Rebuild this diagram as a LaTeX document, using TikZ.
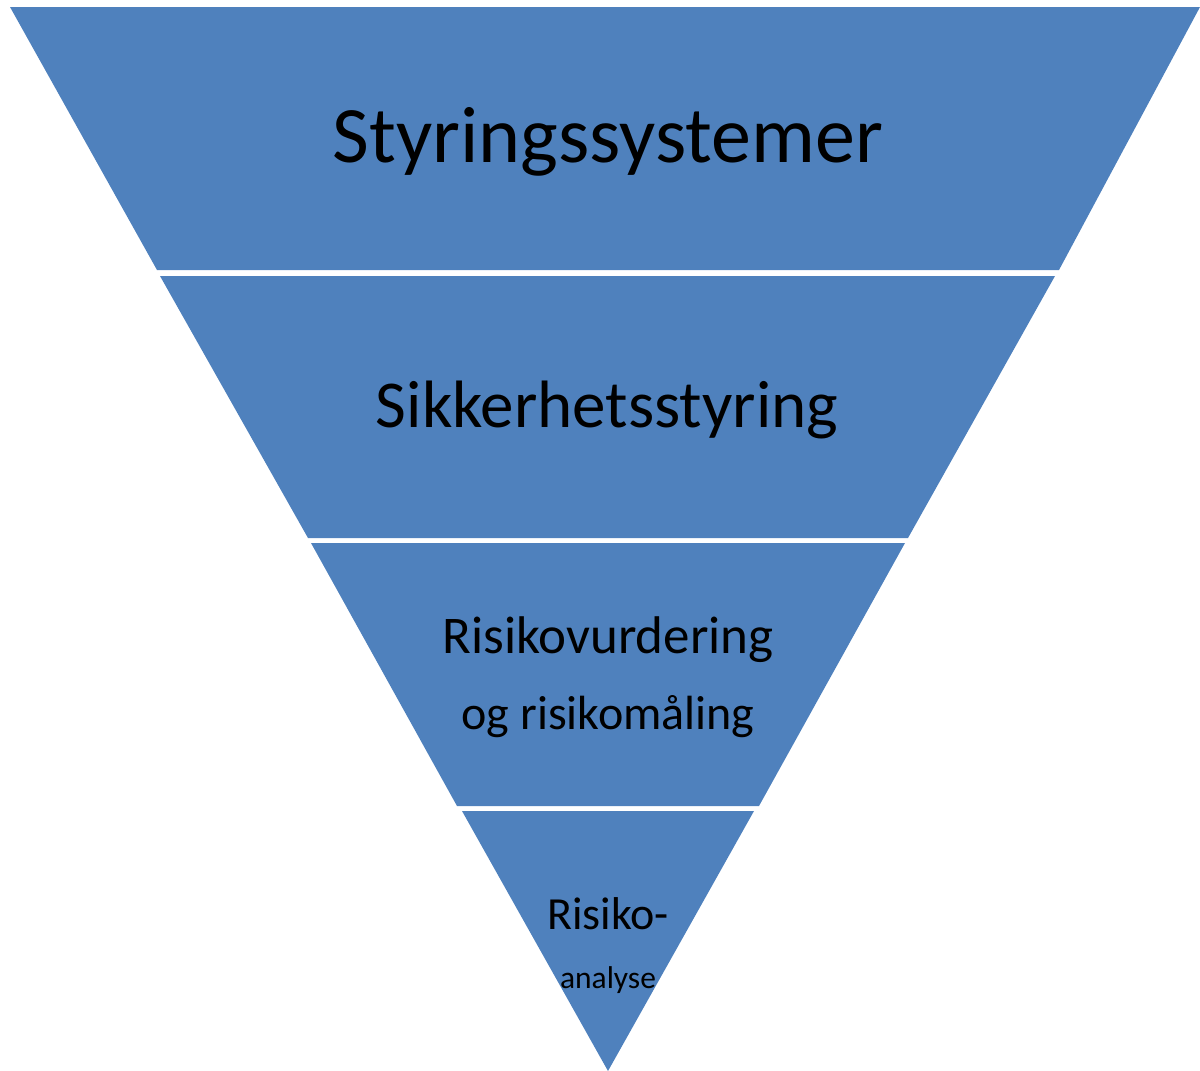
\documentclass[tikz,border=0pt]{standalone}
\usepackage{fontspec}
\setmainfont{Carlito}
\definecolor{bandblue}{HTML}{4F81BD}
\begin{document}
\begin{tikzpicture}[x=1pt,y=-1pt,
  band/.style={fill=bandblue,draw=none},
  label/.style={anchor=base,inner sep=0pt,text=black}]
\useasboundingbox (0,0) rectangle (1200,1071);
% bands
\path[band] (10,7) -- (1200,7) -- (1059,270) -- (157,270) -- cycle;
\path[band] (160,276) -- (1055,276) -- (908,538) -- (308,538) -- cycle;
\path[band] (311,543) -- (905,543) -- (759,806) -- (457,806) -- cycle;
\path[band] (462,811) -- (754,811) -- (608,1071) -- cycle;
% labels
\node[label,font=\fontsize{80}{96}\selectfont] (l1) at (608,162) {Styringssystemer};
\node[label,font=\fontsize{67}{80}\selectfont] (l2) at (607,427) {Sikkerhetsstyring};
\node[label,font=\fontsize{53}{64}\selectfont] (l3a) at (608,653) {Risikovurdering};
\node[label,font=\fontsize{48}{58}\selectfont] (l3b) at (608,729) {og risikomåling};
\node[label,font=\fontsize{46}{55}\selectfont] (l4a) at (608,929) {Risiko-};
\node[label,font=\fontsize{31.5}{38}\selectfont] (l4b) at (608,988) {analyse};
\end{tikzpicture}
\end{document}
